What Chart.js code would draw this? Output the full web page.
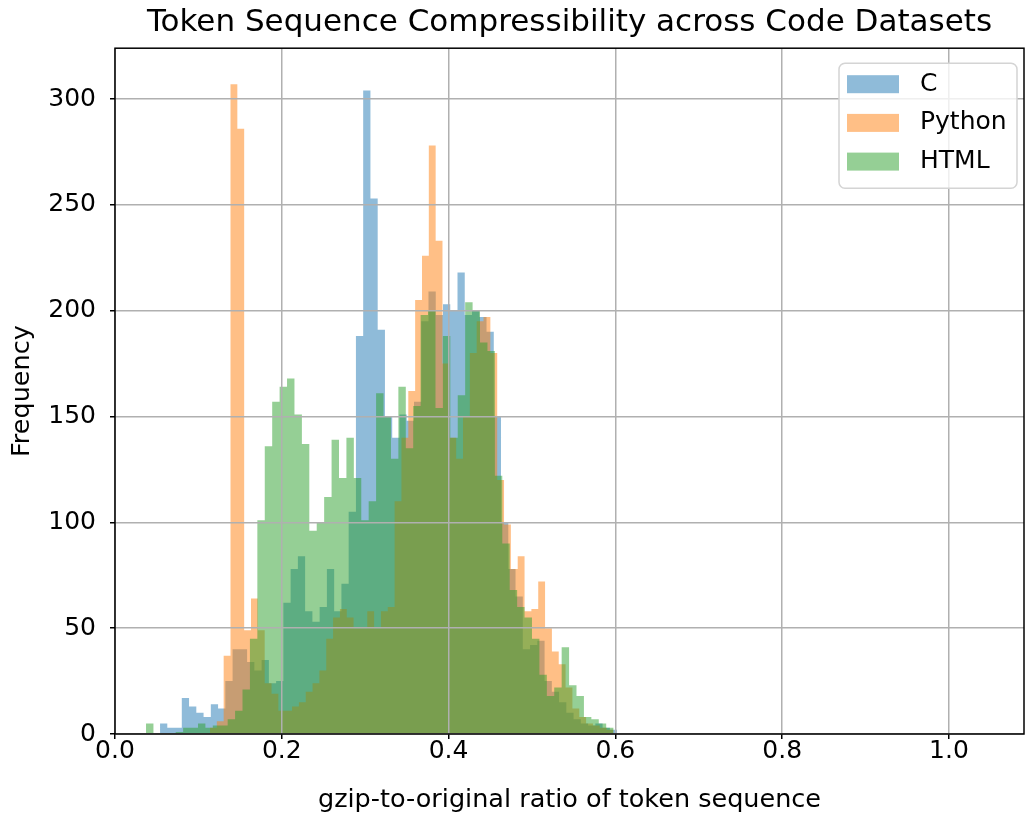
<!DOCTYPE html>
<html>
<head>
<meta charset="utf-8">
<title>Token Sequence Compressibility across Code Datasets</title>
<script src="https://cdn.jsdelivr.net/npm/chart.js@4.4.1/dist/chart.umd.min.js"></script>
<style>
  html, body { margin: 0; padding: 0; background: #fff; }
  #wrap { width: 1026px; height: 817px; }
</style>
</head>
<body>
<div id="wrap"><canvas id="hist" width="1026" height="817"></canvas></div>
<script>
// histogram bins: left edge of the first bin, bin width, counts per bin
const cStart = 0.054, cWidth = 0.0087;
const cCounts = [5, 3, 3, 17, 13, 10, 8, 14, 12, 25, 40, 40, 34, 30, 35, 24, 25, 62, 78, 84,
  58, 53, 60, 78, 58, 71, 105, 188, 304, 253, 191, 150, 140, 151, 148, 157, 195, 209, 198, 203,
  200, 218, 198, 200, 197, 190, 150, 100, 78, 65, 40, 42, 44, 25, 20, 15, 10, 7, 5, 4, 5, 3, 2];

const pyStart = 0.1139, pyWidth = 0.0082;
const pyCounts = [3, 6, 37, 307, 286, 49, 64, 49, 24, 19, 11, 11, 13, 15, 20, 24, 30, 45, 55, 59,
  55, 50, 50, 58, 50, 58, 60, 110, 140, 162, 205, 226, 278, 233, 175, 140, 130, 150, 180, 195,
  197, 180, 120, 99, 78, 84, 58, 59, 72, 50, 39, 33, 22, 12, 8, 5, 4, 3, 2];

const htmlStart = 0.0372, htmlWidth = 0.0089;
const htmlCounts = [5, 0, 0, 0, 1, 3, 3, 5, 3, 4, 4, 7, 11, 21, 45, 101, 136, 157, 164, 168,
  151, 137, 96, 100, 112, 139, 121, 140, 121, 101, 110, 161, 150, 130, 164, 135, 155, 198, 200, 154,
  188, 140, 160, 204, 200, 185, 181, 122, 90, 68, 60, 55, 45, 28, 18, 22, 41, 23, 18, 8, 7, 5, 3];

const seriesLabels = ['C', 'Python', 'HTML'];
const xTicks = [0, 0.2, 0.4, 0.6, 0.8, 1.0];
const yTicks = [0, 50, 100, 150, 200, 250, 300];

// bins -> stepped outline points (one extra point closes the last bin)
function toSteps(start, width, counts) {
  const pts = counts.map((c, i) => ({ x: start + i * width, y: c }));
  pts.push({ x: start + counts.length * width, y: counts[counts.length - 1] });
  return pts;
}

function histSet(label, pts, color, order) {
  return {
    label: label,
    data: pts,
    stepped: true,
    fill: 'origin',
    backgroundColor: color,
    borderColor: 'transparent',
    borderWidth: 0,
    pointRadius: 0,
    order: order
  };
}

Chart.defaults.font.family = '"DejaVu Sans", sans-serif';
Chart.defaults.color = '#000';

const frame = {
  id: 'frame',
  afterDraw(chart) {
    const { ctx, chartArea: a } = chart;
    ctx.save();
    ctx.strokeStyle = '#000';
    ctx.lineWidth = 1.5;
    ctx.strokeRect(a.left, a.top, a.right - a.left, a.bottom - a.top);
    ctx.restore();
  }
};

const legendBox = {
  id: 'legendBox',
  afterDraw(chart) {
    const { ctx, chartArea: a } = chart;
    const w = 178, h = 125;
    const x0 = a.right - 7 - w, y0 = a.top + 15;
    ctx.save();
    ctx.beginPath();
    ctx.roundRect(x0, y0, w, h, 6);
    ctx.fillStyle = 'rgba(255,255,255,0.8)';
    ctx.fill();
    ctx.strokeStyle = '#d4d4d4';
    ctx.lineWidth = 1.5;
    ctx.stroke();
    ctx.font = '25px "DejaVu Sans"';
    ctx.textBaseline = 'middle';
    chart.data.datasets.forEach((ds, i) => {
      const y = y0 + 12 + i * 38.7;
      ctx.fillStyle = ds.backgroundColor;
      ctx.fillRect(x0 + 8, y, 52, 18);
      ctx.fillStyle = '#000';
      ctx.fillText(ds.label, x0 + 81, y + 9);
    });
    ctx.restore();
  }
};

new Chart(document.getElementById('hist'), {
  type: 'line',
  data: {
    datasets: [
      histSet(seriesLabels[0], toSteps(cStart, cWidth, cCounts), 'rgba(31,119,180,0.5)', 3),
      histSet(seriesLabels[1], toSteps(pyStart, pyWidth, pyCounts), 'rgba(255,127,14,0.5)', 2),
      histSet(seriesLabels[2], toSteps(htmlStart, htmlWidth, htmlCounts), 'rgba(44,160,44,0.5)', 1)
    ]
  },
  options: {
    responsive: false,
    animation: false,
    layout: { padding: { top: 0, right: 2, bottom: 0, left: 0 } },
    plugins: {
      legend: { display: false },
      tooltip: { enabled: false },
      title: {
        display: true,
        text: 'Token Sequence Compressibility across Code Datasets',
        fullSize: false,
        font: { size: 31, weight: 'normal', lineHeight: 1.2 },
        padding: { top: 4, bottom: 7 }
      }
    },
    scales: {
      x: {
        type: 'linear',
        min: 0,
        max: 1.09,
        afterFit: s => { s.height = 83; },
        afterBuildTicks: s => { s.ticks = xTicks.map(v => ({ value: v })); },
        grid: { color: '#b0b0b0', lineWidth: 1.5, z: 1, tickLength: 5, tickColor: '#000', tickWidth: 1.5 },
        border: { display: false },
        ticks: {
          font: { size: 25, lineHeight: 1 },
          padding: 0,
          maxRotation: 0,
          callback: v => Number(v).toFixed(1)
        },
        title: {
          display: true,
          text: 'gzip-to-original ratio of token sequence',
          font: { size: 25.5 },
          padding: { top: 0, bottom: 1 }
        }
      },
      y: {
        min: 0,
        max: 324,
        afterFit: s => { s.width = 115; },
        afterBuildTicks: s => { s.ticks = yTicks.map(v => ({ value: v })); },
        grid: { color: '#b0b0b0', lineWidth: 1.5, z: 1, tickLength: 5, tickColor: '#000', tickWidth: 1.5 },
        border: { display: false },
        ticks: { font: { size: 25 }, padding: 14 },
        title: {
          display: true,
          text: 'Frequency',
          font: { size: 25.5 },
          padding: { top: 7, bottom: 0 }
        }
      }
    }
  },
  plugins: [frame, legendBox]
});
</script>
</body>
</html>
